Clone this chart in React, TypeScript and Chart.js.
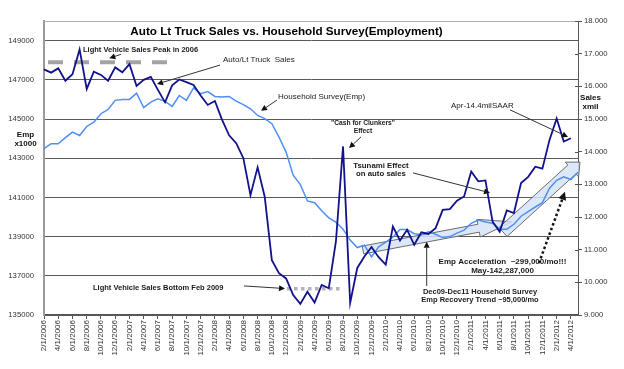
import React, { useEffect, useRef } from 'react';
import { Chart, registerables } from 'chart.js';

Chart.register(...registerables);

const MONTHS = [
  '2/1/2006', '3/1/2006', '4/1/2006', '5/1/2006', '6/1/2006', '7/1/2006', '8/1/2006', '9/1/2006', '10/1/2006', '11/1/2006', '12/1/2006',
  '1/1/2007', '2/1/2007', '3/1/2007', '4/1/2007', '5/1/2007', '6/1/2007', '7/1/2007', '8/1/2007', '9/1/2007', '10/1/2007', '11/1/2007', '12/1/2007',
  '1/1/2008', '2/1/2008', '3/1/2008', '4/1/2008', '5/1/2008', '6/1/2008', '7/1/2008', '8/1/2008', '9/1/2008', '10/1/2008', '11/1/2008', '12/1/2008',
  '1/1/2009', '2/1/2009', '3/1/2009', '4/1/2009', '5/1/2009', '6/1/2009', '7/1/2009', '8/1/2009', '9/1/2009', '10/1/2009', '11/1/2009', '12/1/2009',
  '1/1/2010', '2/1/2010', '3/1/2010', '4/1/2010', '5/1/2010', '6/1/2010', '7/1/2010', '8/1/2010', '9/1/2010', '10/1/2010', '11/1/2010', '12/1/2010',
  '1/1/2011', '2/1/2011', '3/1/2011', '4/1/2011', '5/1/2011', '6/1/2011', '7/1/2011', '8/1/2011', '9/1/2011', '10/1/2011', '11/1/2011', '12/1/2011',
  '1/1/2012', '2/1/2012', '3/1/2012', '4/1/2012', '5/1/2012',
];

// Auto / light truck sales, SAAR, millions (right axis)
const AUTO_SALES = [
  16.52, 16.42, 16.55, 16.17, 16.37, 17.13, 15.92, 16.45, 16.35, 16.17,
  16.58, 16.43, 16.68, 16.01, 16.20, 16.29, 15.89, 15.51, 16.03, 16.21,
  16.13, 16.04, 15.72, 15.43, 15.55, 14.98, 14.50, 14.26, 13.80, 12.67,
  13.52, 12.62, 10.68, 10.28, 10.12, 9.61, 9.34, 9.71, 9.38, 9.92,
  9.82, 11.25, 14.16, 9.37, 10.44, 10.79, 11.08, 10.77, 10.54, 11.71,
  11.28, 11.61, 11.15, 11.53, 11.48, 11.66, 12.22, 12.24, 12.50, 12.63,
  13.39, 13.09, 13.12, 11.86, 11.55, 12.20, 12.12, 13.04, 13.23, 13.54,
  13.48, 14.36, 15.02, 14.31, 14.41, null,
];

// Household survey employment, thousands (left axis)
const HOUSEHOLD_EMP = [
  143490, 143740, 143740, 144050, 144330, 144160, 144620, 144840, 145270, 145490,
  145950, 146000, 146000, 146320, 145580, 145860, 146030, 145900, 145640, 146200,
  145950, 146590, 146290, 146400, 146150, 146120, 146150, 145910, 145730, 145520,
  145180, 145020, 144760, 144080, 143310, 142130, 141650, 140820, 140730, 140320,
  139960, 139740, 139380, 138820, 138440, 138560, 137970, 138480, 138720, 138970,
  139360, 139360, 139150, 139100, 139240, 139120, 138950, 139000, 139180, 139330,
  139680, 139840, 139750, 139680, 139380, 139380, 139630, 140040, 140270, 140510,
  140730, 141470, 141870, 142050, 141910, 142287,
];

const EMP_TICKS = [135000, 137000, 139000, 141000, 143000, 145000, 147000, 149000];
const EMP_MIN = 135000;
const EMP_MAX = 150000;
const SALES_TICKS = [9, 10, 11, 12, 13, 14, 15, 16, 17, 18];

const FONT = "'Liberation Sans', Arial, Helvetica, sans-serif";
const f = (size: number, bold = false) => `${bold ? 'bold ' : ''}${size}px ${FONT}`;

// Annotations in data coordinates: i = month index, s = sales value (right axis)
const TEXTS = [
  { i: 5.48, s: 17.11, text: 'Light Vehicle Sales Peak in 2006', font: f(7.5, true), align: 'left' },
  { i: 25.14, s: 16.81, text: 'Auto/Lt Truck  Sales', font: f(8), align: 'left' },
  { i: 32.87, s: 15.67, text: 'Household Survey(Emp)', font: f(8), align: 'left' },
  { i: 57.16, s: 15.4, text: 'Apr-14.4milSAAR', font: f(8), align: 'left' },
  { i: 44.8, s: 14.88, text: '"Cash for Clunkers"', font: f(6.7, true), align: 'center' },
  { i: 44.8, s: 14.63, text: 'Effect', font: f(6.7, true), align: 'center' },
  { i: 47.33, s: 13.56, text: 'Tsunami Effect', font: f(7.8, true), align: 'center' },
  { i: 47.33, s: 13.32, text: 'on auto sales', font: f(7.8, true), align: 'center' },
  { i: 6.88, s: 9.83, text: 'Light Vehicle Sales Bottom Feb 2009', font: f(7.5, true), align: 'left' },
  { i: 64.4, s: 10.62, text: 'Emp Acceleration  ~299,000/mo!!!', font: f(8, true), align: 'center' },
  { i: 64.4, s: 10.35, text: 'May-142,287,000', font: f(8, true), align: 'center' },
  { i: 61.24, s: 9.7, text: 'Dec09-Dec11 Household Survey', font: f(7.5, true), align: 'center' },
  { i: 61.24, s: 9.46, text: 'Emp Recovery Trend ~95,000/mo', font: f(7.5, true), align: 'center' },
];

const ARROWS = [
  { from: [10.81, 16.98], to: [9.17, 16.86] },
  { from: [24.72, 16.65], to: [15.87, 16.07] },
  { from: [32.72, 15.58], to: [30.48, 15.25] },
  { from: [65.45, 15.28], to: [73.6, 14.45] },
  { from: [44.52, 14.45], to: [42.84, 14.11] },
  { from: [51.83, 13.35], to: [62.64, 12.74] },
  { from: [28.09, 9.89], to: [33.85, 9.81] },
  { from: [53.75, 9.89], to: [53.75, 11.24] },
];

const DOTTED_ARROW = { from: [69.52, 10.59], to: [73.17, 12.77] };

const GRAY_LINES = [
  { from: [0.56, 16.74], to: [17.4, 16.74], width: 4, dash: [15, 11], color: '#a3a3a3' },
  { from: [34.13, 9.8], to: [41.71, 9.8], width: 3.5, dash: [3.5, 3.5], color: '#b3b3b3' },
];

const BLOCK_ARROWS = [
  { tail: [44.8, 10.99], tip: [65.73, 11.85], shaft: 4, head: 9, headLen: 34 },
  { tail: [64.47, 11.54], tip: [75.28, 13.68], shaft: 6, head: 10, headLen: 11 },
];

function lineArrow(ctx: CanvasRenderingContext2D, x1: number, y1: number, x2: number, y2: number, hl: number, hw: number) {
  const dx = x2 - x1, dy = y2 - y1;
  const L = Math.hypot(dx, dy);
  const ux = dx / L, uy = dy / L;
  const nx = -uy, ny = ux;
  const bx = x2 - ux * hl, by = y2 - uy * hl;
  ctx.beginPath();
  ctx.moveTo(x1, y1);
  ctx.lineTo(bx, by);
  ctx.stroke();
  ctx.save();
  ctx.setLineDash([]);
  ctx.beginPath();
  ctx.moveTo(x2, y2);
  ctx.lineTo(bx + nx * hw, by + ny * hw);
  ctx.lineTo(bx - nx * hw, by - ny * hw);
  ctx.closePath();
  ctx.fill();
  ctx.restore();
}

function blockArrow(ctx: CanvasRenderingContext2D, x1: number, y1: number, x2: number, y2: number, sw: number, hw: number, hl: number) {
  const dx = x2 - x1, dy = y2 - y1;
  const L = Math.hypot(dx, dy);
  const ux = dx / L, uy = dy / L;
  const nx = -uy, ny = ux;
  const bx = x2 - ux * hl, by = y2 - uy * hl;
  ctx.beginPath();
  ctx.moveTo(x1 + nx * sw, y1 + ny * sw);
  ctx.lineTo(bx + nx * sw, by + ny * sw);
  ctx.lineTo(bx + nx * hw, by + ny * hw);
  ctx.lineTo(x2, y2);
  ctx.lineTo(bx - nx * hw, by - ny * hw);
  ctx.lineTo(bx - nx * sw, by - ny * sw);
  ctx.lineTo(x1 - nx * sw, y1 - ny * sw);
  ctx.closePath();
  ctx.fill();
  ctx.stroke();
}

const annotationPlugin = {
  id: 'annotations',
  beforeDatasetsDraw(chart: any) {
    const { ctx, scales, chartArea } = chart;
    const X = (i: number) => scales.x.getPixelForValue(i);
    const Y = (v: number) => scales.y2.getPixelForValue(v);
    ctx.save();
    // plot top border
    ctx.strokeStyle = '#b0b0b0';
    ctx.lineWidth = 1;
    ctx.beginPath();
    ctx.moveTo(chartArea.left, chartArea.top + 0.5);
    ctx.lineTo(chartArea.right, chartArea.top + 0.5);
    ctx.stroke();

    for (const g of GRAY_LINES) {
      ctx.strokeStyle = g.color;
      ctx.lineWidth = g.width;
      ctx.setLineDash(g.dash);
      ctx.beginPath();
      ctx.moveTo(X(g.from[0]), Y(g.from[1]));
      ctx.lineTo(X(g.to[0]), Y(g.to[1]));
      ctx.stroke();
    }
    ctx.setLineDash([]);
    ctx.fillStyle = 'rgba(214, 228, 248, 0.85)';
    ctx.strokeStyle = '#6b6b6b';
    ctx.lineWidth = 1;
    for (const b of BLOCK_ARROWS) {
      blockArrow(ctx, X(b.tail[0]), Y(b.tail[1]), X(b.tip[0]), Y(b.tip[1]), b.shaft, b.head, b.headLen);
    }
    ctx.restore();
  },
  afterDatasetsDraw(chart: any) {
    const { ctx, scales, chartArea } = chart;
    const X = (i: number) => scales.x.getPixelForValue(i);
    const Y = (v: number) => scales.y2.getPixelForValue(v);
    ctx.save();

    // arrows
    ctx.strokeStyle = '#333';
    ctx.fillStyle = '#111';
    ctx.lineWidth = 1;
    for (const a of ARROWS) {
      lineArrow(ctx, X(a.from[0]), Y(a.from[1]), X(a.to[0]), Y(a.to[1]), 6, 3);
    }
    ctx.strokeStyle = '#111';
    ctx.lineWidth = 2.5;
    ctx.setLineDash([2.5, 2.5]);
    lineArrow(ctx, X(DOTTED_ARROW.from[0]), Y(DOTTED_ARROW.from[1]), X(DOTTED_ARROW.to[0]), Y(DOTTED_ARROW.to[1]), 8, 4);
    ctx.setLineDash([]);

    // texts
    ctx.fillStyle = '#1a1a1a';
    ctx.textBaseline = 'middle';
    for (const t of TEXTS) {
      ctx.font = t.font;
      ctx.textAlign = t.align as CanvasTextAlign;
      ctx.fillText(t.text, X(t.i), Y(t.s));
    }

    // title
    ctx.fillStyle = '#000';
    ctx.font = f(11.7, true);
    ctx.textAlign = 'center';
    ctx.fillText('Auto Lt Truck Sales vs. Household Survey(Employment)', chartArea.left + 242.5, chartArea.top + 10.5);

    // axis titles
    ctx.font = f(8, true);
    ctx.fillStyle = '#111';
    ctx.fillText('Emp', chartArea.left - 18.5, chartArea.top + 114);
    ctx.fillText('x1000', chartArea.left - 18.5, chartArea.top + 123);
    ctx.fillText('Sales', chartArea.right + 12.5, chartArea.top + 76.5);
    ctx.fillText('xmil', chartArea.right + 12.5, chartArea.top + 86);

    // inner tick marks on right axis
    ctx.strokeStyle = '#555';
    ctx.lineWidth = 1;
    for (const v of SALES_TICKS) {
      const y = Math.round(Y(v)) + 0.5;
      ctx.beginPath();
      ctx.moveTo(chartArea.right - 3, y);
      ctx.lineTo(chartArea.right, y);
      ctx.stroke();
    }
    ctx.restore();
  },
};

export default function App() {
  const canvasRef = useRef<HTMLCanvasElement | null>(null);

  useEffect(() => {
    const canvas = canvasRef.current;
    if (!canvas) return;
    Chart.defaults.font.family = FONT;
    const chart = new Chart(canvas, {
      type: 'line',
      data: {
        labels: MONTHS,
        datasets: [
          {
            label: 'Auto/Lt Truck Sales',
            data: AUTO_SALES,
            yAxisID: 'y2',
            borderColor: '#12128c',
            borderWidth: 1.8,
            pointRadius: 0,
            tension: 0,
            order: 1,
          },
          {
            label: 'Household Survey(Emp)',
            data: HOUSEHOLD_EMP,
            yAxisID: 'y',
            borderColor: '#4d8ff5',
            borderWidth: 1.5,
            pointRadius: 0,
            tension: 0,
            order: 2,
          },
        ],
      },
      options: {
        responsive: false,
        maintainAspectRatio: false,
        animation: false,
        devicePixelRatio: 1,
        layout: { padding: { top: 21, left: 0, right: 0, bottom: 0 } },
        plugins: {
          legend: { display: false },
          title: { display: false },
          tooltip: { enabled: false },
        },
        scales: {
          x: {
            type: 'category',
            offset: false,
            grid: {
              drawOnChartArea: false,
              drawTicks: true,
              tickLength: 4,
              tickColor: (c: any) => (c.index % 2 === 0 ? '#555' : 'rgba(0,0,0,0)'),
            },
            border: { color: '#555', width: 1.5 },
            ticks: {
              autoSkip: false,
              minRotation: 90,
              maxRotation: 90,
              padding: 1,
              color: '#333',
              font: { size: 8, family: FONT },
              callback: (_v: any, idx: number) => (idx % 2 === 0 ? MONTHS[idx] : ''),
            },
            afterFit: (axis: any) => { axis.height = 54; },
          },
          y: {
            type: 'linear',
            position: 'left',
            min: EMP_MIN,
            max: EMP_MAX,
            afterBuildTicks: (axis: any) => {
              axis.ticks = EMP_TICKS.map((v) => ({ value: v }));
            },
            grid: { color: '#5a5a5a', lineWidth: 1, drawTicks: false },
            border: { color: '#9a9a9a', width: 2 },
            ticks: {
              padding: 10,
              color: '#333',
              font: { size: 7.7, family: FONT },
              callback: (v: any) => String(v),
            },
            afterFit: (axis: any) => { axis.width = 44; },
          },
          y2: {
            type: 'linear',
            position: 'right',
            min: 9,
            max: 18,
            afterBuildTicks: (axis: any) => {
              axis.ticks = SALES_TICKS.map((v) => ({ value: v }));
            },
            grid: { drawOnChartArea: false, drawTicks: true, tickLength: 4, tickColor: '#555' },
            border: { color: '#555', width: 1 },
            ticks: {
              padding: 2,
              color: '#333',
              font: { size: 7.7, family: FONT },
              callback: (v: any) => Number(v).toFixed(3),
            },
            afterFit: (axis: any) => { axis.width = 46; },
          },
        },
      } as any,
      plugins: [annotationPlugin],
    });
    return () => chart.destroy();
  }, []);

  return (
    <div style={{ position: 'fixed', left: 0, top: 0, width: 624, height: 369, background: '#fff' }}>
      <canvas ref={canvasRef} width={624} height={369} style={{ display: 'block', width: 624, height: 369 }} />
    </div>
  );
}
